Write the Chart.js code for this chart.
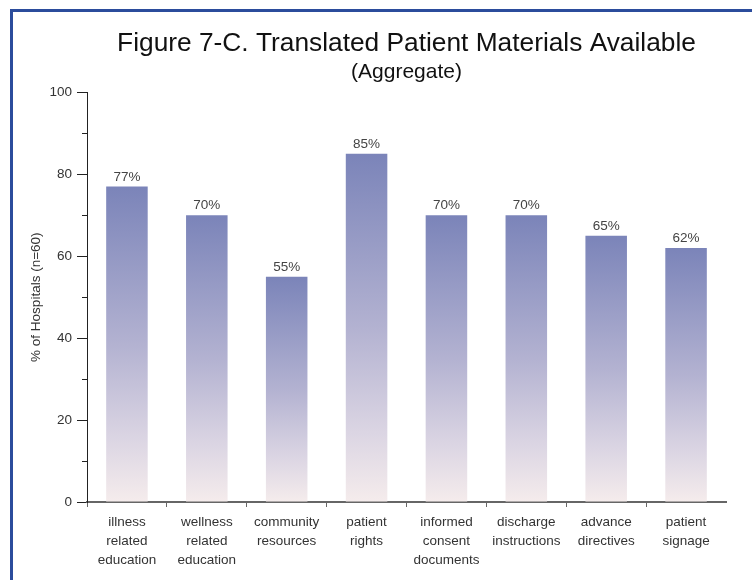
<!DOCTYPE html>
<html>
<head>
<meta charset="utf-8">
<script src="https://cdn.jsdelivr.net/npm/chart.js@4.4.1/dist/chart.umd.min.js"></script>
<style>
  html, body { margin: 0; padding: 0; background: #fff; }
  #wrap { position: relative; width: 752px; height: 580px; }
  #frame { position: absolute; left: 10px; top: 9px; right: 0; bottom: 0;
           border-left: 3px solid #2b4c9c; border-top: 3px solid #2b4c9c; }
  canvas { position: absolute; left: 0; top: 0; }
</style>
</head>
<body>
<div id="wrap">
  <div id="frame"></div>
  <canvas id="materialsChart" width="752" height="580"></canvas>
</div>
<script>
// chart data
const categories = [
    ['illness', 'related', 'education'],
    ['wellness', 'related', 'education'],
    ['community', 'resources'],
    ['patient', 'rights'],
    ['informed', 'consent', 'documents'],
    ['discharge', 'instructions'],
    ['advance', 'directives'],
    ['patient', 'signage']
];
const percentAvailable = [77, 70, 55, 85, 70, 70, 65, 62];
const yTicks = [0, 20, 40, 60, 80, 100];
const yMinorTicks = [10, 30, 50, 70, 90];

const sans = "'Liberation Sans', Arial, sans-serif";

// vertical gradient for each bar, from its top down to the baseline
function barGradient(context) {
    const chart = context.chart;
    const area = chart.chartArea;
    if (!area) return '#9a9fc8';
    const yScale = chart.scales.y;
    const top = yScale.getPixelForValue(context.raw);
    const bottom = yScale.getPixelForValue(0);
    const g = chart.ctx.createLinearGradient(0, top, 0, bottom);
    g.addColorStop(0, '#7b84b9');
    g.addColorStop(0.5, '#b3b2d1');
    g.addColorStop(0.8, '#dbd5e3');
    g.addColorStop(1, '#f5ecec');
    return g;
}

// value labels above the bars
const valueLabels = {
    id: 'valueLabels',
    afterDatasetsDraw(chart) {
        const ctx = chart.ctx;
        const meta = chart.getDatasetMeta(0);
        ctx.save();
        ctx.font = '13.5px ' + sans;
        ctx.fillStyle = '#444';
        ctx.textAlign = 'center';
        ctx.textBaseline = 'bottom';
        meta.data.forEach((bar, i) => {
            ctx.fillText(percentAvailable[i] + '%', bar.x, bar.y - 3);
        });
        ctx.restore();
    }
};

// short minor ticks on the y axis
const minorTicks = {
    id: 'minorTicks',
    afterDraw(chart) {
        const ctx = chart.ctx;
        const yScale = chart.scales.y;
        const x = chart.chartArea.left;
        ctx.save();
        ctx.strokeStyle = '#222';
        ctx.lineWidth = 1;
        yMinorTicks.forEach(v => {
            const y = Math.round(yScale.getPixelForValue(v)) + 0.5;
            ctx.beginPath();
            ctx.moveTo(x - 5, y);
            ctx.lineTo(x, y);
            ctx.stroke();
        });
        ctx.restore();
    }
};

const ctx = document.getElementById('materialsChart').getContext('2d');
const chart = new Chart(ctx, {
    type: 'bar',
    data: {
        labels: categories,
        datasets: [{
            data: percentAvailable,
            backgroundColor: barGradient,
            borderWidth: 0,
            barPercentage: 0.52,
            categoryPercentage: 1
        }]
    },
    options: {
        responsive: false,
        animation: false,
        layout: { padding: { top: 9, left: 28, right: 26, bottom: 0 } },
        plugins: {
            legend: { display: false },
            tooltip: { enabled: false },
            title: {
                display: true,
                fullSize: false,
                text: 'Figure 7-C. Translated Patient Materials Available',
                color: '#111',
                font: { family: sans, size: 26.3, weight: 'normal', lineHeight: 1.2 },
                padding: { top: 19, bottom: 0 }
            },
            subtitle: {
                display: true,
                fullSize: false,
                text: '(Aggregate)',
                color: '#111',
                font: { family: sans, size: 21, weight: 'normal', lineHeight: 1.2 },
                padding: { top: 0, bottom: 7.6 }
            }
        },
        scales: {
            x: {
                grid: {
                    offset: true,
                    drawOnChartArea: false,
                    tickLength: 5,
                    color: ctx => ctx.type === 'tick' ? '#666' : 'rgba(0,0,0,0)'
                },
                border: { color: '#666', width: 2 },
                ticks: {
                    color: '#333',
                    padding: 6,
                    maxRotation: 0,
                    autoSkip: false,
                    font: { family: sans, size: 13.5, lineHeight: 1.4 }
                },
                afterFit: scale => { scale.height = 78; }
            },
            y: {
                min: 0,
                max: 100,
                afterBuildTicks: scale => { scale.ticks = yTicks.map(v => ({ value: v })); },
                grid: { drawOnChartArea: false, tickLength: 10, color: '#222' },
                border: { color: '#222', width: 1 },
                ticks: {
                    color: '#333',
                    padding: 5,
                    font: { family: sans, size: 13.5 }
                },
                title: {
                    display: true,
                    text: '% of Hospitals (n=60)',
                    color: '#333',
                    font: { family: sans, size: 13.5 },
                    padding: { top: 0, bottom: 8 }
                },
                afterFit: scale => { scale.width = 59; }
            }
        }
    },
    plugins: [valueLabels, minorTicks]
});
</script>
</body>
</html>
